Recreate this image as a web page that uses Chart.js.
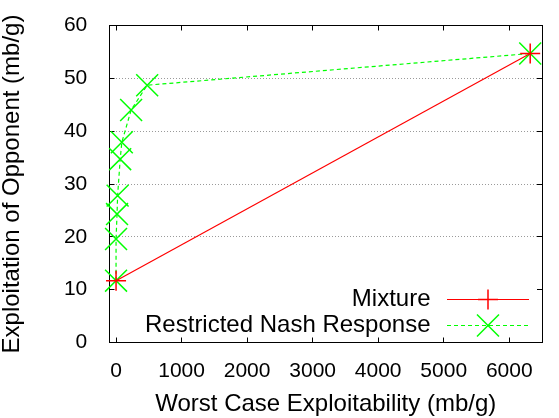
<!DOCTYPE html>
<html>
<head>
<meta charset="utf-8">
<title>Exploitation vs Worst Case Exploitability</title>
<script src="https://cdn.jsdelivr.net/npm/chart.js@4/dist/chart.umd.min.js"></script>
<style>
  html, body { margin: 0; padding: 0; background: #fff; }
  canvas { display: block; }
</style>
</head>
<body>
<canvas id="chart" width="559" height="418"></canvas>
<script>
// ==========================================
// DATA
// ==========================================

const xTicks = [0, 1000, 2000, 3000, 4000, 5000, 6000];
const xTickLabels = ["0", "1000", "2000", "3000", "4000", "5000", "6000"];
const yTicks = [0, 10, 20, 30, 40, 50, 60];
const yTickLabels = ["0", "10", "20", "30", "40", "50", "60"];

const mixtureX = [0, 6320];
const mixtureY = [11.7, 54.7];

const rnrX = [0, 0, 15, 24, 63, 88, 230, 475, 6320];
const rnrY = [11.7, 19.6, 24.3, 27.8, 34.7, 37.9, 44.0, 48.7, 54.7];

const RED = "#ff0000";
const GREEN = "#00ff00";

// ==========================================
// LEGEND SAMPLES (line + marker, gnuplot style)
// ==========================================

function legendSample(color, dashed, marker) {
  const c = document.createElement("canvas");
  c.width = 82;
  c.height = 25;
  const g = c.getContext("2d");
  g.fillStyle = color;
  // sample line, 1px crisp row
  if (dashed) {
    for (let x = 0; x < 82; x += 7) g.fillRect(x, 12, 4, 1);
  } else {
    g.fillRect(0, 12, 82, 1);
  }
  g.strokeStyle = color;
  g.lineWidth = 1.5;
  g.beginPath();
  if (marker === "plus") {
    g.moveTo(31, 12.5); g.lineTo(51, 12.5);
    g.moveTo(41, 2.5); g.lineTo(41, 22.5);
  } else {
    g.moveTo(30, 1.5); g.lineTo(52, 23.5);
    g.moveTo(52, 1.5); g.lineTo(30, 23.5);
  }
  g.stroke();
  return c;
}

const legendImages = [
  legendSample(RED, false, "plus"),
  legendSample(GREEN, true, "x"),
];

// ==========================================
// PLUGINS
// ==========================================

// legend sits inside the plot, bottom right, text left of the sample
const legendPlacement = {
  id: "legendPlacement",
  afterLayout(chart) {
    const lg = chart.legend;
    const area = chart.chartArea;
    lg.left = area.left;
    lg.right = area.right - 6.5;
    lg.width = lg.right - lg.left;
    lg.top = area.bottom - 57;
    lg.bottom = area.bottom + 5;
    lg.height = lg.bottom - lg.top;
  },
};

function fixedTicks(values) {
  return (scale) => {
    scale.ticks = values.map((v) => ({ value: v }));
  };
}

// ==========================================
// CHART
// ==========================================

Chart.defaults.font.family = "'Liberation Sans', Arial, sans-serif";
Chart.defaults.color = "#000";

const ctx = document.getElementById("chart").getContext("2d");

new Chart(ctx, {
  type: "scatter",
  data: {
    datasets: [
      {
        label: "Mixture",
        data: mixtureX.map((x, i) => ({ x: x, y: mixtureY[i] })),
        showLine: true,
        borderColor: RED,
        backgroundColor: RED,
        borderWidth: 1.2,
        pointStyle: "cross",
        pointRadius: 10,
        pointHoverRadius: 10,
        pointBorderWidth: 1.5,
        pointBorderColor: RED,
        clip: false,
      },
      {
        label: "Restricted Nash Response",
        data: rnrX.map((x, i) => ({ x: x, y: rnrY[i] })),
        showLine: true,
        borderColor: GREEN,
        backgroundColor: GREEN,
        borderWidth: 1.2,
        borderDash: [4, 3],
        pointStyle: "crossRot",
        pointRadius: 15.5,
        pointHoverRadius: 15.5,
        pointBorderWidth: 1.5,
        pointBorderColor: GREEN,
        clip: false,
      },
    ],
  },
  options: {
    responsive: false,
    animation: false,
    layout: { padding: { left: 0, top: 25.5, right: 1.5, bottom: 0 } },
    plugins: {
      tooltip: { enabled: false },
      legend: {
        position: "chartArea",
        align: "start",
        rtl: true,
        labels: {
          usePointStyle: true,
          pointStyleWidth: 91,
          boxHeight: 24,
          padding: 2,
          color: "#000",
          font: { size: 24 },
          generateLabels: (chart) =>
            Chart.defaults.plugins.legend.labels
              .generateLabels(chart)
              .map((item, i) => Object.assign(item, { pointStyle: legendImages[i] })),
        },
      },
    },
    scales: {
      x: {
        type: "linear",
        position: "bottom",
        min: -100,
        max: 6500,
        afterBuildTicks: fixedTicks(xTicks),
        afterFit: (s) => {
          s.height = 75.5;
          s.paddingLeft = 0;
          s.paddingRight = 0;
        },
        grid: { drawOnChartArea: false, tickLength: -5, tickColor: "#000", tickWidth: 1 },
        border: { color: "#000", width: 1 },
        ticks: {
          padding: 21,
          autoSkip: false,
          maxRotation: 0,
          color: "#000",
          font: { size: 21 },
          callback: (value, index) => xTickLabels[index],
        },
        title: {
          display: true,
          text: "Worst Case Exploitability (mb/g)",
          color: "#000",
          font: { size: 24, lineHeight: 1 },
          padding: { top: 0, bottom: 1.5 },
        },
      },
      y: {
        type: "linear",
        position: "left",
        min: 0,
        max: 60,
        afterBuildTicks: fixedTicks(yTicks),
        afterFit: (s) => {
          s.width = 109.5;
          s.paddingTop = 0;
          s.paddingBottom = 0;
        },
        grid: {
          color: (c) => ([0, 10, 60].includes(c.tick.value) ? "rgba(0,0,0,0)" : "#9a9a9a"),
          lineWidth: 1,
          tickLength: -5,
          tickColor: "#000",
          tickWidth: 1,
        },
        border: { color: "#000", width: 1, dash: [1, 2] },
        ticks: {
          padding: 27.2,
          color: "#000",
          font: { size: 21 },
          callback: (value, index) => yTickLabels[index],
        },
        title: {
          display: true,
          text: "Exploitation of Opponent (mb/g)",
          color: "#000",
          font: { size: 24, lineHeight: 1 },
          padding: { top: 0, bottom: 0 },
        },
      },
      x2: {
        type: "linear",
        axis: "x",
        position: "top",
        min: -100,
        max: 6500,
        afterBuildTicks: fixedTicks(xTicks),
        afterFit: (s) => {
          s.height = 0;
          s.paddingLeft = 0;
          s.paddingRight = 0;
        },
        grid: { drawOnChartArea: false, tickLength: -5, tickColor: "#000", tickWidth: 1 },
        border: { color: "#000", width: 1 },
        ticks: { display: false },
      },
      y2: {
        type: "linear",
        axis: "y",
        position: "right",
        min: 0,
        max: 60,
        afterBuildTicks: fixedTicks(yTicks),
        afterFit: (s) => {
          s.width = 0;
          s.paddingTop = 0;
          s.paddingBottom = 0;
        },
        grid: { drawOnChartArea: false, tickLength: -5, tickColor: "#000", tickWidth: 1 },
        border: { color: "#000", width: 1 },
        ticks: { display: false },
      },
    },
  },
  plugins: [legendPlacement],
});
</script>
</body>
</html>
